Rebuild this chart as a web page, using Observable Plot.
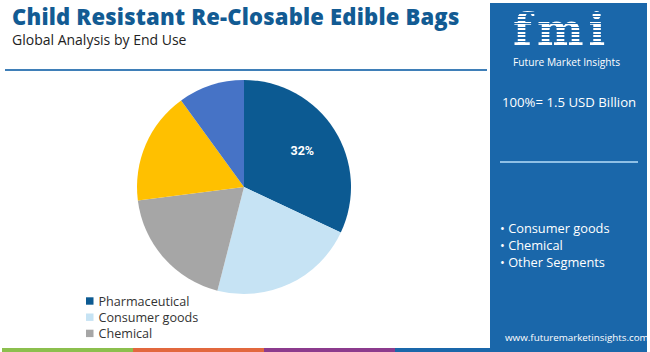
<!DOCTYPE html>
<html><head><meta charset="utf-8">
<script src="https://cdn.jsdelivr.net/npm/d3@7"></script>
<script src="https://cdn.jsdelivr.net/npm/@observablehq/plot@0.6"></script>
<style>
body{margin:0;background:#fff;}
#wrap{position:relative;width:650px;height:352px;overflow:hidden;font-family:"Open Sans",sans-serif;background:#fff;}
.abs{position:absolute;white-space:nowrap;}
#title{left:12px;top:1px;font-size:22px;font-weight:800;color:#125b93;line-height:30px;letter-spacing:0.2px;}
#subtitle{left:12px;top:31px;font-size:14px;color:#222;line-height:18px;}
#rule{left:5px;top:69px;width:482px;height:2px;background:#3f7fb8;}
#panel{left:490px;top:3px;width:157px;height:349px;background:#1a67aa;}
#chart{position:absolute;left:0;top:0;}
.bar{position:absolute;top:348px;height:4px;}
#logo{left:513px;top:10px;font-family:"DejaVu Serif",serif;font-weight:bold;font-size:44px;line-height:40px;height:40px;color:transparent;
 background:repeating-linear-gradient(to bottom,#fff 0 2.2px,rgba(255,255,255,0) 2.2px 3.6px);-webkit-background-clip:text;background-clip:text;letter-spacing:5px;}
#logotxt{left:513px;top:56px;font-size:10.2px;color:#fff;line-height:12px;}
#total{left:502px;top:94px;font-size:13.2px;color:#fff;line-height:17px;}
#pline{left:500px;top:161px;width:138px;height:2px;background:#8fc0e6;}
.bul{left:500px;font-size:12.8px;color:#fff;line-height:16px;}
#url{left:505px;top:331px;font-size:9.8px;color:#fff;line-height:13px;}
</style></head><body>
<div id="wrap">
  <div id="panel" class="abs"></div>
  <div id="title" class="abs"></div>
  <div id="subtitle" class="abs"></div>
  <div id="rule" class="abs"></div>
  <div id="logo" class="abs">fmi</div>
  <div id="logotxt" class="abs">Future Market Insights</div>
  <div id="total" class="abs"></div>
  <div id="pline" class="abs"></div>
  <div id="bullets"></div>
  <div id="url" class="abs">www.futuremarketinsights.com</div>
  <div id="bars"></div>
  <div id="chart"></div>
</div>
<script>
const titleText = "Child Resistant Re-Closable Edible Bags";
const subtitleText = "Global Analysis by End Use";
const segments = ["Pharmaceutical", "Consumer goods", "Chemical", "Segment D", "Segment E"];
const shares = [32, 22, 19, 17, 10];
const sliceLabels = ["32%", "", "", "", ""];
const sliceColors = ["#0c5a92", "#c6e3f4", "#a6a6a6", "#ffc000", "#4673c6"];
const legendItems = ["Pharmaceutical", "Consumer goods", "Chemical"];
const totalText = "100%= 1.5 USD Billion";
const panelBullets = ["Consumer goods", "Chemical", "Other Segments"];
const barColors = ["#8cbf4e", "#e2683e", "#8c3b8d", "#1a67aa"];

document.getElementById("title").textContent = titleText;
document.getElementById("subtitle").textContent = subtitleText;
document.getElementById("total").textContent = totalText;
const bl = document.getElementById("bullets");
panelBullets.forEach((t, i) => {
  const d = document.createElement("div");
  d.className = "abs bul";
  d.style.top = (220 + i * 17) + "px";
  d.textContent = "\u2022 " + t;
  bl.appendChild(d);
});
const bars = document.getElementById("bars");
barColors.forEach((c, i) => {
  const d = document.createElement("div");
  d.className = "bar";
  d.style.left = (2 + i * 131) + "px";
  d.style.width = (i === 3 ? 160 : 131) + "px";
  d.style.background = c;
  bars.appendChild(d);
});

const data = segments.map((s, i) => ({segment: s, share: shares[i], label: sliceLabels[i]}));
const cx = 244, cy = 187, R = 107;
const arcs = d3.pie().sort(null).value(d => d.share)(data);
const labelData = arcs.map(a => {
  const m = (a.startAngle + a.endAngle) / 2;
  return {label: a.data.label, x: cx + 0.64 * R * Math.sin(m), y: cy - 0.64 * R * Math.cos(m)};
}).filter(d => d.label);
const legendData = legendItems.map((s, i) => ({segment: s, y: 301 + i * 16.2}));

const pieMark = (index, scales) => {
  const g = d3.create("svg:g").attr("transform", `translate(${scales.x(cx)},${scales.y(cy)})`);
  const arc = d3.arc().innerRadius(0).outerRadius(R);
  g.selectAll("path").data(arcs).join("path")
    .attr("d", arc)
    .attr("fill", d => scales.color(d.data.segment));
  return g.node();
};

const chart = Plot.plot({
  width: 490, height: 352,
  margin: 0,
  x: {domain: [0, 490], range: [0, 490], axis: null},
  y: {domain: [0, 352], range: [0, 352], axis: null},
  color: {domain: segments, range: sliceColors},
  style: {background: "transparent", fontFamily: "Open Sans, sans-serif"},
  marks: [
    pieMark,
    Plot.text(labelData, {x: "x", y: "y", text: "label", fill: "#fff", fontSize: 12.5, fontWeight: "bold", fontFamily: "Roboto, sans-serif"}),
    Plot.rect(legendData, {x1: () => 86, x2: () => 93.5, y1: d => d.y - 3.7, y2: d => d.y + 3.7, fill: "segment"}),
    Plot.text(legendData, {x: () => 98, y: "y", text: "segment", textAnchor: "start", fontSize: 12.6, fill: "#333"})
  ]
});
document.getElementById("chart").appendChild(chart);
</script>
</body></html>
